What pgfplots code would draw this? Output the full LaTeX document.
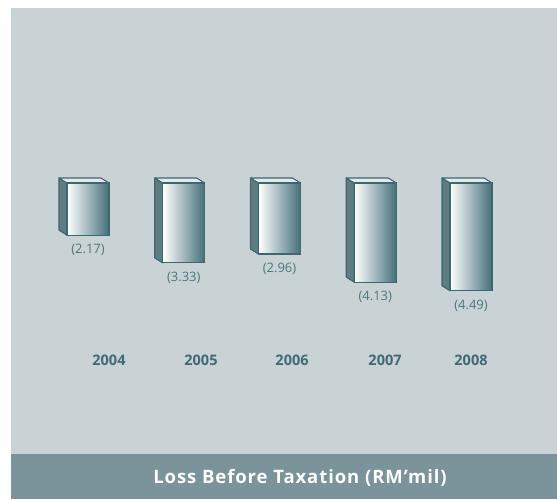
\documentclass[border=0pt]{standalone}
\usepackage{fontspec}
\setmainfont{Open Sans}
\usepackage{pgfplots}
\pgfplotsset{compat=1.18}
\usepackage{pgfplotstable}
\definecolor{bg}{HTML}{C9D2D5}
\definecolor{banner}{HTML}{7B939A}
\definecolor{edge}{HTML}{3E6770}
\definecolor{side}{HTML}{5D7D83}
\definecolor{topface}{HTML}{E4EAEC}
\definecolor{frontdark}{HTML}{44707A}
\definecolor{lbl}{HTML}{52757D}
\definecolor{year}{HTML}{3F6B74}
\pgfplotstableread{
i v
0 2.17
1 3.33
2 2.96
3 4.13
4 4.49
}\losstable
\pgfplotsset{
  frontbar/.style={ybar, bar width=42pt, bar shift=0pt, draw=edge, line width=1.1pt,
    left color=white, right color=frontdark,
    point meta=\thisrow{v},
    nodes near coords={(\pgfmathprintnumber[fixed,fixed zerofill,precision=2,assume math mode=true]{\pgfplotspointmeta})},
    every node near coord/.append style={anchor=north, text=lbl, font=\fontsize{13}{15}\selectfont, yshift=-5pt}},
  sideface/.style={fill=side, draw=edge, line width=1.1pt, line join=round},
  topf/.style={fill=topface, draw=edge, line width=1.1pt, line join=round},
}
\begin{document}
\begin{tikzpicture}
\fill[white] (0,0) rectangle (557pt,499pt);
\fill[bg] (11pt,0) rectangle (557pt,491pt);
\fill[banner] (11pt,0pt) rectangle (557pt,45pt);
\node[text=white,font=\fontsize{18.5}{22}\selectfont\bfseries\addfontfeatures{LetterSpace=5}] at (300pt,21pt) {Loss Before Taxation (RM’mil)};
\begin{axis}[
  at={(0,0)}, anchor=south west,
  scale only axis, width=557pt, height=499pt,
  xmin=-0.919, xmax=4.898, ymin=-13.167, ymax=7.625,
  axis line style={draw=none}, tick style={draw=none}, ytick=\empty,
  xtick={0.219,1.180,2.131,3.102,4.0},
  xticklabels={2004,2005,2006,2007,2008},
  xticklabel style={anchor=center, yshift=139pt, font=\fontsize{14.5}{17}\selectfont\bfseries, text=year},
  clip=false,
]
% side faces
\addplot[sideface] coordinates {(-0.2193,0) (-0.2193,-2.17) (-0.3029,-1.9617) (-0.3029,0.2083) (-0.2193,0)};
\addplot[sideface] coordinates {(0.7807,0) (0.7807,-3.33) (0.6971,-3.1217) (0.6971,0.2083) (0.7807,0)};
\addplot[sideface] coordinates {(1.7807,0) (1.7807,-2.96) (1.6971,-2.7517) (1.6971,0.2083) (1.7807,0)};
\addplot[sideface] coordinates {(2.7807,0) (2.7807,-4.13) (2.6971,-3.9217) (2.6971,0.2083) (2.7807,0)};
\addplot[sideface] coordinates {(3.7807,0) (3.7807,-4.49) (3.6971,-4.2817) (3.6971,0.2083) (3.7807,0)};
% top faces
\addplot[topf] coordinates {(-0.2193,0) (0.2193,0) (0.1357,0.2083) (-0.3029,0.2083) (-0.2193,0)};
\addplot[topf] coordinates {(0.7807,0) (1.2193,0) (1.1357,0.2083) (0.6971,0.2083) (0.7807,0)};
\addplot[topf] coordinates {(1.7807,0) (2.2193,0) (2.1357,0.2083) (1.6971,0.2083) (1.7807,0)};
\addplot[topf] coordinates {(2.7807,0) (3.2193,0) (3.1357,0.2083) (2.6971,0.2083) (2.7807,0)};
\addplot[topf] coordinates {(3.7807,0) (4.2193,0) (4.1357,0.2083) (3.6971,0.2083) (3.7807,0)};
% front faces, one plot per bar so that each has its own shading
\addplot[frontbar] table[x=i, y expr=-\thisrow{v}, restrict x to domain=0:0] {\losstable};
\addplot[frontbar] table[x=i, y expr=-\thisrow{v}, restrict x to domain=1:1] {\losstable};
\addplot[frontbar] table[x=i, y expr=-\thisrow{v}, restrict x to domain=2:2] {\losstable};
\addplot[frontbar] table[x=i, y expr=-\thisrow{v}, restrict x to domain=3:3] {\losstable};
\addplot[frontbar] table[x=i, y expr=-\thisrow{v}, restrict x to domain=4:4] {\losstable};
\end{axis}
\end{tikzpicture}
\end{document}
